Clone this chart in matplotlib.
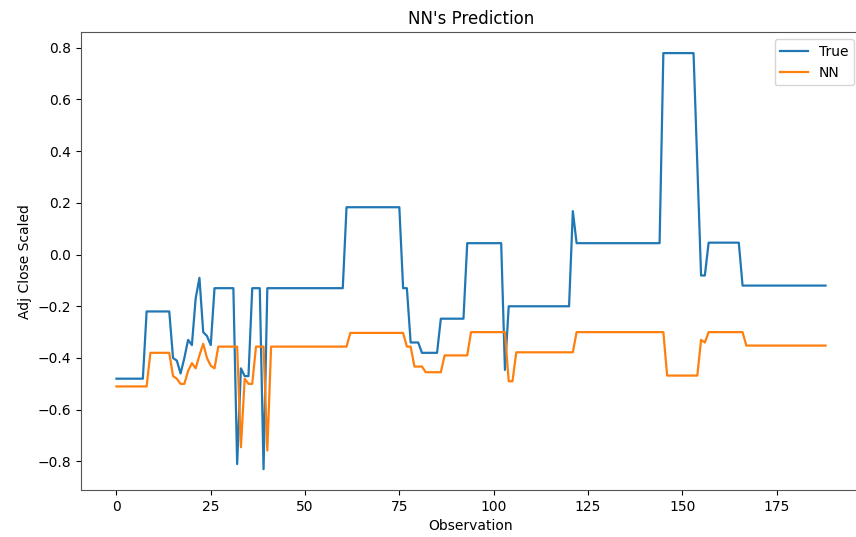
import matplotlib
matplotlib.use("Agg")
import matplotlib.pyplot as plt

# Scaled adjusted close: actual values and the network's predictions
true_values = [
    -0.48, -0.48, -0.48, -0.48, -0.48, -0.48, -0.48, -0.48, -0.22, -0.22,
    -0.22, -0.22, -0.22, -0.22, -0.22, -0.40, -0.41, -0.46, -0.40, -0.33,
    -0.35, -0.17, -0.09, -0.30, -0.315, -0.35, -0.13, -0.13, -0.13, -0.13,
    -0.13, -0.13, -0.81, -0.44, -0.47, -0.47, -0.13, -0.13, -0.13, -0.83,
    -0.13, -0.13, -0.13, -0.13, -0.13, -0.13, -0.13, -0.13, -0.13, -0.13,
    -0.13, -0.13, -0.13, -0.13, -0.13, -0.13, -0.13, -0.13, -0.13, -0.13,
    -0.13, 0.183, 0.183, 0.183, 0.183, 0.183, 0.183, 0.183, 0.183, 0.183,
    0.183, 0.183, 0.183, 0.183, 0.183, 0.183, -0.13, -0.13, -0.34, -0.34,
    -0.34, -0.38, -0.38, -0.38, -0.38, -0.38, -0.248, -0.248, -0.248, -0.248,
    -0.248, -0.248, -0.248, 0.044, 0.044, 0.044, 0.044, 0.044, 0.044, 0.044,
    0.044, 0.044, 0.044, -0.446, -0.20, -0.20, -0.20, -0.20, -0.20, -0.20,
    -0.20, -0.20, -0.20, -0.20, -0.20, -0.20, -0.20, -0.20, -0.20, -0.20,
    -0.20, 0.168, 0.044, 0.044, 0.044, 0.044, 0.044, 0.044, 0.044, 0.044,
    0.044, 0.044, 0.044, 0.044, 0.044, 0.044, 0.044, 0.044, 0.044, 0.044,
    0.044, 0.044, 0.044, 0.044, 0.044, 0.779, 0.779, 0.779, 0.779, 0.779,
    0.779, 0.779, 0.779, 0.779, 0.35, -0.081, -0.081, 0.046, 0.046, 0.046,
    0.046, 0.046, 0.046, 0.046, 0.046, 0.046, -0.12, -0.12, -0.12, -0.12,
    -0.12, -0.12, -0.12, -0.12, -0.12, -0.12, -0.12, -0.12, -0.12, -0.12,
    -0.12, -0.12, -0.12, -0.12, -0.12, -0.12, -0.12, -0.12, -0.12,
]

nn_values = [
    -0.51, -0.51, -0.51, -0.51, -0.51, -0.51, -0.51, -0.51, -0.51, -0.38,
    -0.38, -0.38, -0.38, -0.38, -0.38, -0.47, -0.48, -0.50, -0.50, -0.45,
    -0.42, -0.44, -0.39, -0.345, -0.40, -0.43, -0.44, -0.356, -0.356, -0.356,
    -0.356, -0.356, -0.356, -0.745, -0.48, -0.50, -0.50, -0.356, -0.356, -0.356,
    -0.758, -0.356, -0.356, -0.356, -0.356, -0.356, -0.356, -0.356, -0.356, -0.356,
    -0.356, -0.356, -0.356, -0.356, -0.356, -0.356, -0.356, -0.356, -0.356, -0.356,
    -0.356, -0.356, -0.303, -0.303, -0.303, -0.303, -0.303, -0.303, -0.303, -0.303,
    -0.303, -0.303, -0.303, -0.303, -0.303, -0.303, -0.303, -0.356, -0.356, -0.433,
    -0.433, -0.433, -0.455, -0.455, -0.455, -0.455, -0.455, -0.39, -0.39, -0.39,
    -0.39, -0.39, -0.39, -0.39, -0.30, -0.30, -0.30, -0.30, -0.30, -0.30,
    -0.30, -0.30, -0.30, -0.30, -0.49, -0.49, -0.378, -0.378, -0.378, -0.378,
    -0.378, -0.378, -0.378, -0.378, -0.378, -0.378, -0.378, -0.378, -0.378, -0.378,
    -0.378, -0.378, -0.30, -0.30, -0.30, -0.30, -0.30, -0.30, -0.30, -0.30,
    -0.30, -0.30, -0.30, -0.30, -0.30, -0.30, -0.30, -0.30, -0.30, -0.30,
    -0.30, -0.30, -0.30, -0.30, -0.30, -0.30, -0.468, -0.468, -0.468, -0.468,
    -0.468, -0.468, -0.468, -0.468, -0.468, -0.33, -0.34, -0.30, -0.30, -0.30,
    -0.30, -0.30, -0.30, -0.30, -0.30, -0.30, -0.30, -0.352, -0.352, -0.352,
    -0.352, -0.352, -0.352, -0.352, -0.352, -0.352, -0.352, -0.352, -0.352, -0.352,
    -0.352, -0.352, -0.352, -0.352, -0.352, -0.352, -0.352, -0.352, -0.352,
]

series_labels = ["True", "NN"]
title_text = "NN's Prediction"
x_label = "Observation"
y_label = "Adj Close Scaled"

W, H = 856, 537
fig = plt.figure(figsize=(W / 100, H / 100), dpi=100)
left, right, top, bottom = 81, 861, 32.3, 490
ax = fig.add_axes([left / W, 1 - bottom / H, (right - left) / W, (bottom - top) / H])

ax.plot(range(len(true_values)), true_values, color="#1f77b4", linewidth=1.6,
        label=series_labels[0])
ax.plot(range(len(nn_values)), nn_values, color="#ff7f0e", linewidth=1.6,
        label=series_labels[1])

ax.set_title(title_text, fontsize=12)
ax.set_xlabel(x_label, fontsize=10)
ax.set_ylabel(y_label, fontsize=10)
ax.set_xticks([0, 25, 50, 75, 100, 125, 150, 175])
ax.set_yticks([-0.8, -0.6, -0.4, -0.2, 0.0, 0.2, 0.4, 0.6, 0.8])
ax.tick_params(labelsize=10)
for s in ax.spines.values():
    s.set_color("#555555")
ax.legend(loc="upper right", fontsize=10)

fig.savefig("out.png", dpi=100)
